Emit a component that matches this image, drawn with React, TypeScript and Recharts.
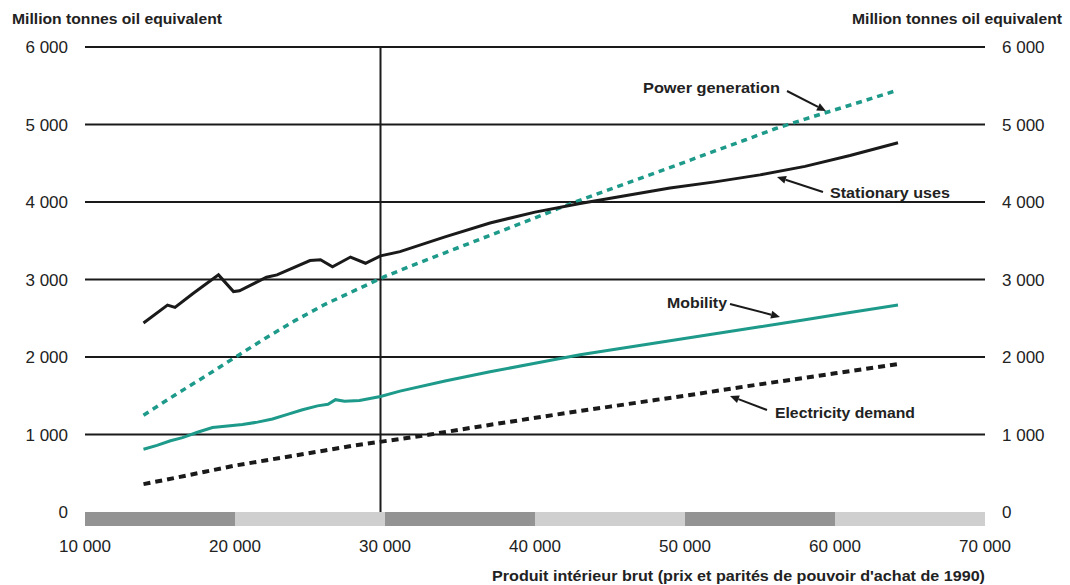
import React from 'react';
import {
  LineChart, Line, XAxis, YAxis, CartesianGrid, ReferenceLine, ReferenceArea,
} from 'recharts';

// GDP (x) vs consumption in Mtoe (y)
const stationaryUses = [
  { gdp: 13900, v: 2440 }, { gdp: 15500, v: 2670 }, { gdp: 16000, v: 2640 },
  { gdp: 17200, v: 2820 }, { gdp: 18900, v: 3060 }, { gdp: 19900, v: 2845 },
  { gdp: 20300, v: 2855 }, { gdp: 22100, v: 3030 }, { gdp: 22800, v: 3060 },
  { gdp: 25000, v: 3245 }, { gdp: 25700, v: 3255 }, { gdp: 26500, v: 3165 },
  { gdp: 27700, v: 3290 }, { gdp: 28700, v: 3210 }, { gdp: 29700, v: 3305 },
  { gdp: 31000, v: 3360 }, { gdp: 34000, v: 3550 }, { gdp: 37000, v: 3730 },
  { gdp: 40000, v: 3870 }, { gdp: 43000, v: 3980 }, { gdp: 46000, v: 4080 },
  { gdp: 49000, v: 4180 }, { gdp: 52000, v: 4260 }, { gdp: 55000, v: 4350 },
  { gdp: 58000, v: 4460 }, { gdp: 61000, v: 4600 }, { gdp: 64200, v: 4765 },
];

const powerGeneration = [
  { gdp: 13900, v: 1250 }, { gdp: 16000, v: 1510 }, { gdp: 18000, v: 1750 },
  { gdp: 20000, v: 1995 }, { gdp: 22000, v: 2240 }, { gdp: 24000, v: 2470 },
  { gdp: 26000, v: 2680 }, { gdp: 28000, v: 2860 }, { gdp: 30000, v: 3040 },
  { gdp: 32000, v: 3195 }, { gdp: 34000, v: 3345 }, { gdp: 36000, v: 3495 },
  { gdp: 38000, v: 3645 }, { gdp: 40000, v: 3795 }, { gdp: 42000, v: 3950 },
  { gdp: 44000, v: 4095 }, { gdp: 46000, v: 4235 }, { gdp: 48000, v: 4375 },
  { gdp: 50000, v: 4515 }, { gdp: 52000, v: 4660 }, { gdp: 54000, v: 4800 },
  { gdp: 56000, v: 4945 }, { gdp: 58000, v: 5070 }, { gdp: 60000, v: 5190 },
  { gdp: 62000, v: 5310 }, { gdp: 64200, v: 5445 },
];

const mobility = [
  { gdp: 13900, v: 810 }, { gdp: 14800, v: 860 }, { gdp: 15700, v: 920 },
  { gdp: 16500, v: 960 }, { gdp: 17500, v: 1030 }, { gdp: 18500, v: 1090 },
  { gdp: 19500, v: 1110 }, { gdp: 20500, v: 1130 }, { gdp: 21500, v: 1160 },
  { gdp: 22500, v: 1200 }, { gdp: 23500, v: 1260 }, { gdp: 24500, v: 1320 },
  { gdp: 25500, v: 1370 }, { gdp: 26200, v: 1390 }, { gdp: 26700, v: 1450 },
  { gdp: 27300, v: 1430 }, { gdp: 28300, v: 1440 }, { gdp: 29700, v: 1490 },
  { gdp: 31000, v: 1560 }, { gdp: 34000, v: 1690 }, { gdp: 37000, v: 1810 },
  { gdp: 40000, v: 1920 }, { gdp: 43000, v: 2030 }, { gdp: 46000, v: 2120 },
  { gdp: 49000, v: 2210 }, { gdp: 52000, v: 2300 }, { gdp: 55000, v: 2390 },
  { gdp: 58000, v: 2480 }, { gdp: 61000, v: 2575 }, { gdp: 64200, v: 2670 },
];

const electricityDemand = [
  { gdp: 13900, v: 360 }, { gdp: 16000, v: 440 }, { gdp: 18000, v: 520 },
  { gdp: 20000, v: 600 }, { gdp: 22000, v: 665 }, { gdp: 24000, v: 730 },
  { gdp: 26000, v: 795 }, { gdp: 28000, v: 860 }, { gdp: 30000, v: 915 },
  { gdp: 33000, v: 1000 }, { gdp: 36000, v: 1095 }, { gdp: 39000, v: 1185 },
  { gdp: 42000, v: 1275 }, { gdp: 45000, v: 1360 }, { gdp: 48000, v: 1445 },
  { gdp: 51000, v: 1530 }, { gdp: 54000, v: 1620 }, { gdp: 57000, v: 1705 },
  { gdp: 60000, v: 1790 }, { gdp: 64200, v: 1910 },
];

const xTicks = [10000, 20000, 30000, 40000, 50000, 60000, 70000];
const yTicks = [0, 1000, 2000, 3000, 4000, 5000, 6000];
const gridValues = [1000, 2000, 3000, 4000, 5000, 6000];
// alternating grey band under the plot
const bands = [
  { from: 10000, to: 20000, dark: true },
  { from: 20000, to: 30000, dark: false },
  { from: 30000, to: 40000, dark: true },
  { from: 40000, to: 50000, dark: false },
  { from: 50000, to: 60000, dark: true },
  { from: 60000, to: 70000, dark: false },
];
const markerX = 29700;

const TEAL = '#1e9a8b';
const INK = '#1a1a1a';
const FONT = '"Liberation Sans", Arial, sans-serif';

const fmt = (n: number) => String(n).replace(/\B(?=(\d{3})+(?!\d))/g, ' ');

const Arrow = ({ x1, y1, x2, y2 }: { x1: number; y1: number; x2: number; y2: number }) => {
  const a = Math.atan2(y2 - y1, x2 - x1);
  const len = 9, w = 4;
  const bx = x2 - len * Math.cos(a), by = y2 - len * Math.sin(a);
  const px = -Math.sin(a) * w, py = Math.cos(a) * w;
  return (
    <g>
      <line x1={x1} y1={y1} x2={bx} y2={by} stroke={INK} strokeWidth={2} />
      <polygon points={`${x2},${y2} ${bx + px},${by + py} ${bx - px},${by - py}`} fill={INK} />
    </g>
  );
};

const Note = ({ x, y, len, children }: { x: number; y: number; len: number; children: string }) => (
  <text x={x} y={y} dominantBaseline="central" fontSize={15} fontWeight={700} fill="#222"
    textLength={len} lengthAdjust="spacingAndGlyphs" fontFamily={FONT}>{children}</text>
);

export default function App() {
  return (
    <div style={{ position: 'absolute', left: 0, top: 0, width: 1070, height: 585, background: '#fff' }}>
      <LineChart width={1070} height={585} margin={{ top: 47, right: 0, bottom: 19, left: 0 }}>
        <CartesianGrid horizontal vertical={false} horizontalValues={gridValues} stroke={INK} strokeWidth={2} />
        {bands.map((b) => (
          <ReferenceArea key={b.from} x1={b.from} x2={b.to} y1={-180} y2={0}
            fill={b.dark ? '#939393' : '#cfcfcf'} fillOpacity={1} stroke="none" ifOverflow="visible" />
        ))}
        <ReferenceLine segment={[{ x: markerX, y: 0 }, { x: markerX, y: 6000 }]} stroke={INK} strokeWidth={2} />
        <XAxis type="number" dataKey="gdp" domain={[10000, 70000]} ticks={xTicks} tickFormatter={fmt}
          axisLine={false} tickLine={false} tickSize={0} tickMargin={14} height={40}
          tick={{ fontSize: 17, fill: '#222', fontFamily: FONT }} allowDataOverflow />
        <YAxis yAxisId={0} domain={[-180, 6000]} ticks={yTicks} tickFormatter={fmt} width={85}
          axisLine={false} tickLine={false} tickSize={0} tickMargin={17}
          tick={{ fontSize: 17, fill: '#222', fontFamily: FONT }} allowDataOverflow />
        <YAxis yAxisId="r" orientation="right" domain={[-180, 6000]} ticks={yTicks} tickFormatter={fmt} width={85}
          axisLine={false} tickLine={false} tickSize={0} tickMargin={17}
          tick={{ fontSize: 17, fill: '#222', fontFamily: FONT }} allowDataOverflow />
        <Line data={electricityDemand} dataKey="v" type="linear" stroke={INK} strokeWidth={4}
          strokeDasharray="7 5" dot={false} isAnimationActive={false} />
        <Line data={mobility} dataKey="v" type="linear" stroke={TEAL} strokeWidth={3}
          dot={false} isAnimationActive={false} />
        <Line data={powerGeneration} dataKey="v" type="linear" stroke={TEAL} strokeWidth={3.5}
          strokeDasharray="6 5" dot={false} isAnimationActive={false} />
        <Line data={stationaryUses} dataKey="v" type="linear" stroke={INK} strokeWidth={3}
          dot={false} isAnimationActive={false} />
      </LineChart>
      <svg width={1070} height={585} style={{ position: 'absolute', left: 0, top: 0, pointerEvents: 'none' }}>
        <text x={12} y={18} dominantBaseline="central" fontSize={15} fontWeight={700} fill="#222"
          textLength={210} lengthAdjust="spacingAndGlyphs" fontFamily={FONT}>Million tonnes oil equivalent</text>
        <text x={852} y={18} dominantBaseline="central" fontSize={15} fontWeight={700} fill="#222"
          textLength={210} lengthAdjust="spacingAndGlyphs" fontFamily={FONT}>Million tonnes oil equivalent</text>
        <text x={492} y={575} dominantBaseline="central" fontSize={15} fontWeight={700} fill="#222"
          textLength={493} lengthAdjust="spacingAndGlyphs" fontFamily={FONT}>
          Produit intérieur brut (prix et parités de pouvoir d'achat de 1990)
        </text>
        <Note x={643} y={87} len={137}>Power generation</Note>
        <Arrow x1={787} y1={91} x2={826} y2={111} />
        <Note x={830} y={192} len={120}>Stationary uses</Note>
        <Arrow x1={823} y1={192} x2={777} y2={177} />
        <Note x={667} y={302} len={60}>Mobility</Note>
        <Arrow x1={730} y1={304} x2={780} y2={317} />
        <Note x={775} y={412} len={140}>Electricity demand</Note>
        <Arrow x1={767} y1={410} x2={730} y2={396} />
      </svg>
    </div>
  );
}
